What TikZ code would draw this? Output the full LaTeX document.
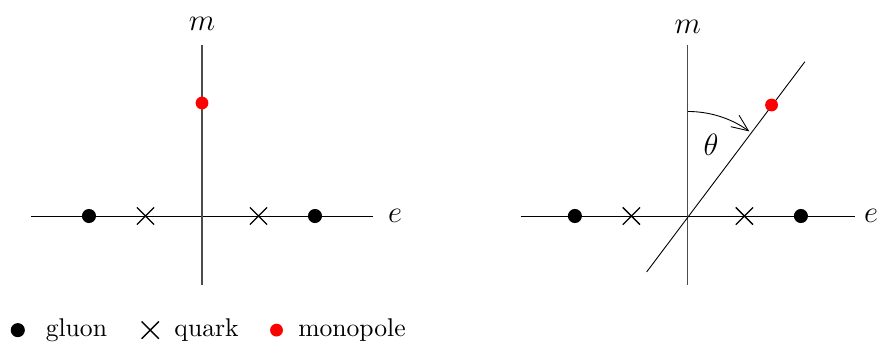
\documentclass[tikz,border=0pt]{standalone}
\usetikzlibrary{shapes.misc,positioning,arrows.meta}

\tikzset{
  gluon/.style={circle,fill=black,inner sep=0pt,minimum size=5.5pt},
  monopole/.style={circle,fill=red,inner sep=0pt,minimum size=5pt},
  quark/.style={cross out,draw,line width=0.5pt,inner sep=0pt,minimum size=6.2pt},
  maxis/.style={draw=black!70,line width=0.45pt},
  axlabel/.style={font=\large}
}

\begin{document}
\begin{tikzpicture}[x=0.775cm,y=0.775cm,line width=0.35pt]
  \useasboundingbox (-3.575,-2.283) rectangle (11.947,3.823);
  % the two charge planes
  \foreach \s/\p/\h/\d/\my in {0/L/3.02/2.5pt/3.40, 8.6/R/2.96/0pt/3.35}{
    \begin{scope}[shift={(\s,0)}]
      \coordinate (\p-w) at (-\h,0);
      \coordinate (\p-e) at (\h,0);
      \coordinate (\p-s) at (0,-1.22);
      \coordinate (\p-n) at (0,3.03);
      \draw (\p-w) -- (\p-e);
      \draw[maxis] (\p-s) -- (\p-n);
      \node[axlabel] (\p-mlab) at (0,\my) {$m$};
      \node[axlabel,right=\d of \p-e] (\p-elab) {$e$};
      \node[gluon] (\p-g1) at (-2,0) {};
      \node[gluon] (\p-g2) at (2,0) {};
      \node[quark] (\p-q1) at (-1,0) {};
      \node[quark] (\p-q2) at (1,0) {};
    \end{scope}
  }
  \node[monopole] (L-mono) at (0,2) {};
  % rotated plane
  \begin{scope}[shift={(8.6,0)}]
    \coordinate (R-o) at (0,0);
    \coordinate (R-a) at (-0.73,-0.99);
    \coordinate (R-b) at (2.07,2.73);
    \draw (R-a) -- (R-b);
    \node[monopole] (R-mono) at (53:2.46) {};
    \draw[-{Straight Barb[length=6.5pt,width=5.5pt]}] (0,1.85) arc (90:54:1.85);
    \node[axlabel] (R-theta) at (0.41,1.26) {$\theta$};
  \end{scope}
  % legend
  \node[gluon] (leg-g) at (-3.26,-2.02) {};
  \node[right=4.5pt of leg-g] (leg-gt) {gluon};
  \node[quark,right=10pt of leg-gt] (leg-q) {};
  \node[right=2.6pt of leg-q] (leg-qt) {quark};
  \node[monopole,right=8.6pt of leg-qt] (leg-m) {};
  \node[right=2.3pt of leg-m] (leg-mt) {monopole};
\end{tikzpicture}
\end{document}
